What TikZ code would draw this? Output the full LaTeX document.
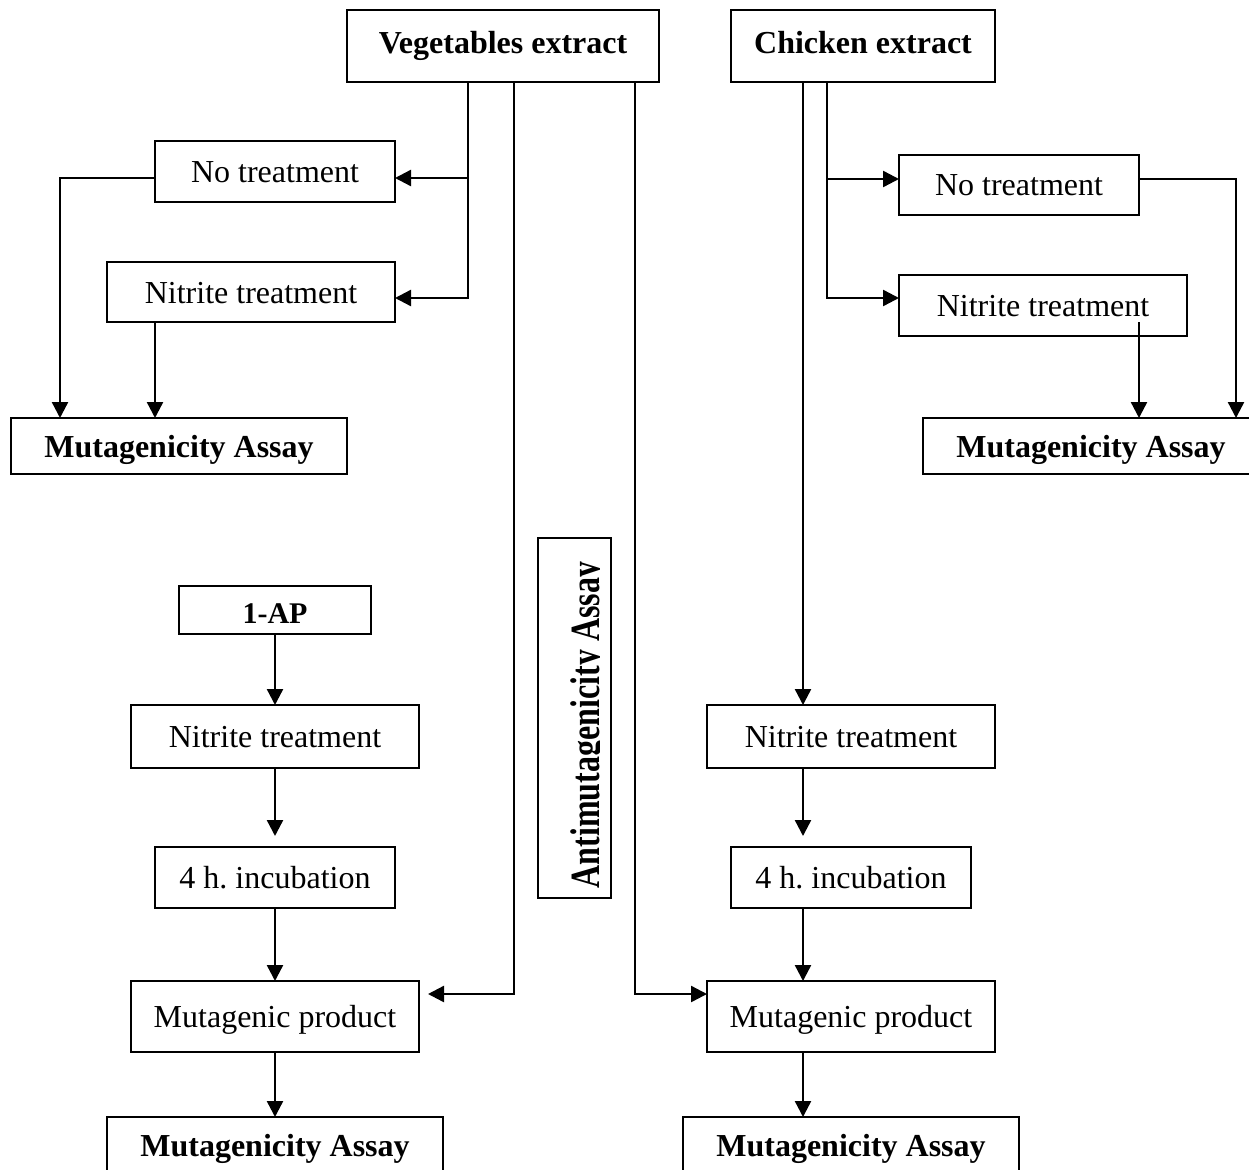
\documentclass[tikz,border=0pt]{standalone}
\usepackage{fontspec}
\setmainfont{Liberation Serif}
\usetikzlibrary{arrows.meta,calc}
\frenchspacing
\begin{document}
\begin{tikzpicture}[x=1pt,y=-1pt,line width=2.4pt,
  box/.style={draw,line width=2.4pt,inner sep=0pt,outer sep=0pt,
    font=\fontsize{32}{38}\selectfont,text height=26pt,text depth=4pt},
  bbox/.style={box,font=\fontsize{32}{38}\selectfont\bfseries},
  topbox/.style={bbox,text height=22pt,text depth=7pt},
  arr/.style={-{Triangle[length=16pt,width=16pt]}}]
\clip (0,0) rectangle (1249,1169);
\fill[white] (0,0) rectangle (1249,1169);
% helper coordinates
\coordinate (xa) at (468,0);
\coordinate (xb) at (514,0);
\coordinate (xc) at (635,0);
\coordinate (xd) at (803,0);
\coordinate (xe) at (827,0);
\coordinate (xf) at (60,0);
\coordinate (xg) at (155,0);
\coordinate (xh) at (1139,0);
\coordinate (xi) at (1236,0);
\coordinate (y178) at (0,178);
\coordinate (y179) at (0,179);
\coordinate (y298) at (0,298);
\coordinate (y994) at (0,994);
% top
\node[topbox,minimum width=312pt,minimum height=72pt] (veg) at (503,46) {Vegetables extract};
\node[topbox,minimum width=264pt,minimum height=72pt] (chk) at (863,46) {Chicken extract};
% left upper
\node[box,minimum width=240pt,minimum height=61pt] (lnt) at (275,171.5) {No treatment};
\node[box,minimum width=288pt,minimum height=60pt] (lnit) at (251,292) {Nitrite treatment};
\node[bbox,minimum width=336pt,minimum height=56pt] (lma) at (179,446) {Mutagenicity Assay};
% right upper
\node[box,minimum width=240pt,minimum height=60pt] (rnt) at (1019,185) {No treatment};
\node[box,minimum width=288pt,minimum height=61pt] (rnit) at (1043,305.5) {Nitrite treatment};
\node[bbox,minimum width=336pt,minimum height=56pt] (rma) at (1091,446) {Mutagenicity Assay};
% left lower
\node[box,font=\fontsize{30}{36}\selectfont\bfseries,text height=26pt,text depth=0pt,minimum width=192pt,minimum height=48pt] (ap) at (275,610) {1-AP};
\node[box,minimum width=288pt,minimum height=63pt] (lnit2) at (275,736.5) {Nitrite treatment};
\node[box,minimum width=240pt,minimum height=61pt] (linc) at (275,877.5) {4 h. incubation};
\node[box,minimum width=288pt,minimum height=71pt] (lmp) at (275,1016.5) {Mutagenic product};
\node[bbox,minimum width=336pt,minimum height=56pt] (lma2) at (275,1145) {Mutagenicity Assay};
% right lower
\node[box,minimum width=288pt,minimum height=63pt] (rnit2) at (851,736.5) {Nitrite treatment};
\node[box,minimum width=240pt,minimum height=61pt] (rinc) at (851,877.5) {4 h. incubation};
\node[box,minimum width=288pt,minimum height=71pt] (rmp) at (851,1016.5) {Mutagenic product};
\node[bbox,minimum width=336pt,minimum height=56pt] (rma2) at (851,1145) {Mutagenicity Assay};
% middle vertical box
\node[draw,line width=2.4pt,inner sep=0pt,outer sep=0pt,minimum width=73pt,minimum height=360pt] (anti) at (574.5,718) {};
\begin{scope}
\clip (540,540) rectangle (599,896);
\node[rotate=90,anchor=base,inner sep=0pt,font=\fontsize{32}{38}\selectfont\bfseries] (antit) at (599,725) {\scalebox{1}[1.3]{Antimutagenicity Assay}};
\end{scope}
% connectors from vegetables extract
\draw[arr] (veg.south -| xa) |- (lnt.east |- y178);
\draw[arr] (veg.south -| xa) |- (lnit.east |- y298);
\draw[arr] (lnt.west |- y178) -| (lma.north -| xf);
\draw[arr] (lnit.south -| xg) -- (lma.north -| xg);
\draw[arr] (veg.south -| xb) |- ($(lmp.east |- y994)+(9,0)$);
\draw[arr] (veg.south -| xc) |- (rmp.west |- y994);
% connectors from chicken extract
\draw[arr] (chk.south -| xe) |- (rnt.west |- y179);
\draw[arr] (chk.south -| xe) |- (rnit.west |- y298);
\draw[arr] (rnt.east |- y179) -| (rma.north -| xi);
\draw[arr] ($(rnit.south -| xh)+(0,-14)$) -- (rma.north -| xh);
\draw[arr] (chk.south -| xd) -- (rnit2.north -| xd);
% left lower chain
\draw[arr] (ap.south) -- (lnit2.north);
\draw[arr] (lnit2.south) -- ($(linc.north)+(0,-11)$);
\draw[arr] (linc.south) -- (lmp.north);
\draw[arr] (lmp.south) -- (lma2.north);
% right lower chain
\draw[arr] (rnit2.south -| xd) -- ($(rinc.north -| xd)+(0,-11)$);
\draw[arr] (rinc.south -| xd) -- (rmp.north -| xd);
\draw[arr] (rmp.south -| xd) -- (rma2.north -| xd);
\end{tikzpicture}
\end{document}
